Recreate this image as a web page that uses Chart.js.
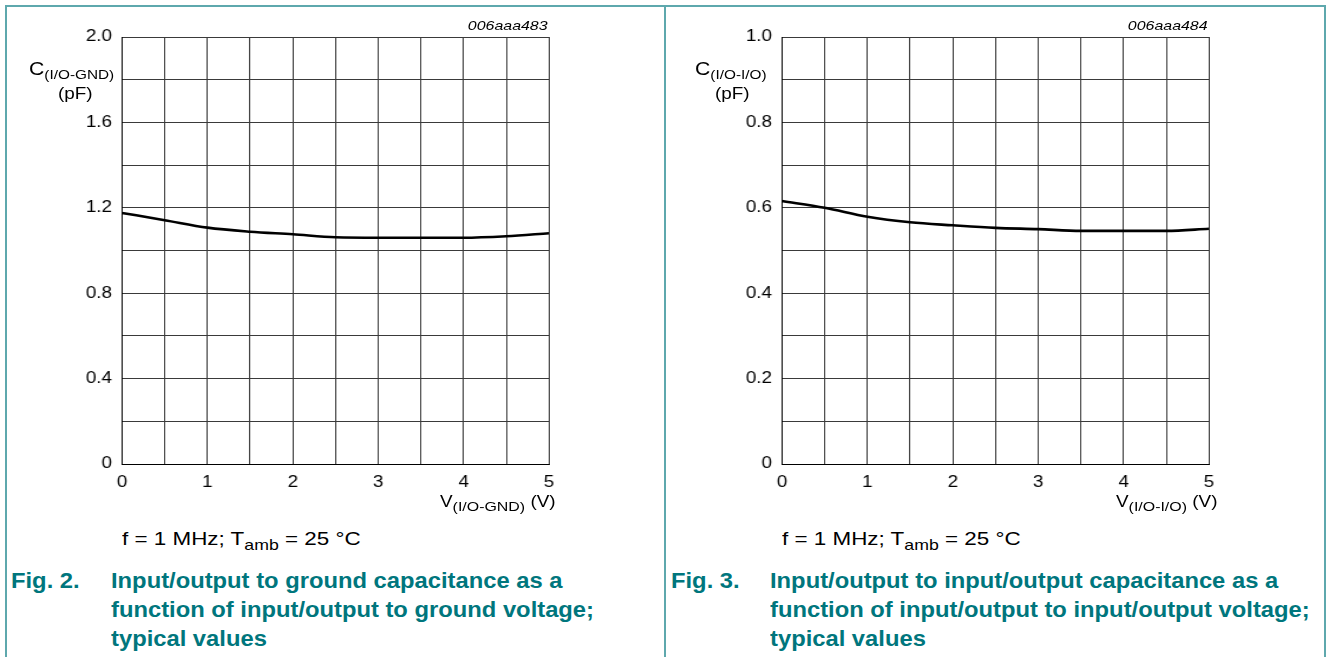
<!DOCTYPE html>
<html>
<head>
<meta charset="utf-8">
<script src="https://cdn.jsdelivr.net/npm/chart.js@4.4.1/dist/chart.umd.min.js"></script>
<style>
  body { margin: 0; background: #fff; font-family: "Liberation Sans", Arial, sans-serif; }
  #page { position: relative; width: 1328px; height: 657px; overflow: hidden; }
  .frame { position: absolute; background: #5ea8ad; }
  .wrap { position: absolute; top: 0; transform: scaleX(1.18); transform-origin: 0 0; }
  .t { position: absolute; white-space: nowrap; color: #000; line-height: 1; transform: scaleX(1.18); transform-origin: 0 0; }
  .t sub { vertical-align: -0.3em; line-height: 0; }
  .id { font-style: italic; font-size: 13.5px; transform-origin: 100% 0; text-align: right; }
  .cap { position: absolute; color: #00767d; font-weight: bold; font-size: 22px; line-height: 29px; white-space: nowrap; transform: scaleX(1.08); transform-origin: 0 0; }
</style>
</head>
<body>
<div id="page">
  <div class="frame" style="left:5px;top:5px;width:1321px;height:2px"></div>
  <div class="frame" style="left:5px;top:5px;width:2px;height:652px"></div>
  <div class="frame" style="left:664px;top:5px;width:2px;height:652px"></div>
  <div class="frame" style="left:1324px;top:5px;width:2px;height:652px"></div>

  <div class="wrap" style="left:0"><canvas id="chart1" width="564" height="500"></canvas></div>
  <div class="wrap" style="left:660px"><canvas id="chart2" width="564" height="500"></canvas></div>

  <!-- left panel texts -->
  <div class="t id" style="right:780px;top:19px">006aaa483</div>
  <div class="t" style="left:29px;top:60px;font-size:18px">C<sub style="font-size:13px">(I/O-GND)</sub></div>
  <div class="t" style="left:58px;top:86px;font-size:16px">(pF)</div>
  <div class="t" style="left:440px;top:494px;font-size:16px">V<sub style="font-size:13.5px">(I/O-GND)</sub> (V)</div>
  <div class="t" style="left:122px;top:529px;font-size:19px">f = 1 MHz; T<sub style="font-size:15px">amb</sub> = 25 °C</div>
  <div class="cap" style="left:11px;top:566px">Fig. 2.</div>
  <div class="cap" style="left:111px;top:566px">Input/output to ground capacitance as a<br>function of input/output to ground voltage;<br>typical values</div>

  <!-- right panel texts -->
  <div class="t id" style="right:120px;top:19px">006aaa484</div>
  <div class="t" style="left:695px;top:60px;font-size:18px">C<sub style="font-size:13px">(I/O-I/O)</sub></div>
  <div class="t" style="left:715px;top:86px;font-size:16px">(pF)</div>
  <div class="t" style="left:1116px;top:494px;font-size:16px">V<sub style="font-size:13.5px">(I/O-I/O)</sub> (V)</div>
  <div class="t" style="left:782px;top:529px;font-size:19px">f = 1 MHz; T<sub style="font-size:15px">amb</sub> = 25 °C</div>
  <div class="cap" style="left:671px;top:566px">Fig. 3.</div>
  <div class="cap" style="left:770px;top:566px">Input/output to input/output capacitance as a<br>function of input/output to input/output voltage;<br>typical values</div>
</div>

<script>
// voltage steps (V)
const voltage = [0, 0.5, 1, 1.5, 2, 2.5, 3, 3.5, 4, 4.5, 5];
// C(I/O-GND) in pF
const capGnd = [1.176, 1.142, 1.107, 1.088, 1.076, 1.062, 1.060, 1.060, 1.060, 1.067, 1.081];
// C(I/O-I/O) in pF
const capIo = [0.616, 0.600, 0.579, 0.566, 0.559, 0.553, 0.550, 0.546, 0.546, 0.546, 0.551];

const xTicks = [0, 1, 2, 3, 4, 5];
const gndLabels = { '0.0': '0', '0.4': '0.4', '0.8': '0.8', '1.2': '1.2', '1.6': '1.6', '2.0': '2.0' };
const ioLabels = { '0.0': '0', '0.2': '0.2', '0.4': '0.4', '0.6': '0.6', '0.8': '0.8', '1.0': '1.0' };

// canvas is drawn narrow and stretched by 1.18 with css, like the original print
const stretch = 1.18;

function makeChart(id, values, yMax, yStep, yLabels) {
  const ctx = document.getElementById(id).getContext('2d');
  const points = voltage.map((v, i) => ({ x: v, y: values[i] }));
  return new Chart(ctx, {
    type: 'line',
    data: {
      datasets: [{
        data: points,
        borderColor: '#000',
        borderWidth: 2.6,
        pointRadius: 0,
        tension: 0.35,
        cubicInterpolationMode: 'monotone'
      }]
    },
    options: {
      responsive: false,
      animation: false,
      devicePixelRatio: 1,
      layout: { padding: { left: 122 / stretch - 40, right: 564 - 549 / stretch, top: 37, bottom: 0 } },
      plugins: { legend: { display: false }, tooltip: { enabled: false } },
      scales: {
        x: {
          type: 'linear',
          min: 0, max: 5,
          afterFit: s => { s.height = 36; },
          grid: { color: '#3a3a3a', lineWidth: 1, drawTicks: false },
          border: { color: '#000', width: 1 },
          ticks: {
            stepSize: 0.5,
            padding: 9,
            color: '#000',
            font: { family: 'Liberation Sans', size: 16 },
            maxRotation: 0,
            callback: v => xTicks.includes(v) ? String(v) : ''
          }
        },
        y: {
          min: 0, max: yMax,
          afterFit: s => { s.width = 40; },
          grid: { color: '#3a3a3a', lineWidth: 1, drawTicks: false },
          border: { color: '#000', width: 1 },
          ticks: {
            stepSize: yStep,
            padding: 8.5,
            color: '#000',
            font: { family: 'Liberation Sans', size: 16 },
            callback: v => {
              const key = v.toFixed(1);
              return yLabels[key] !== undefined ? yLabels[key] : '';
            }
          }
        }
      }
    }
  });
}

makeChart('chart1', capGnd, 2.0, 0.2, gndLabels);
makeChart('chart2', capIo, 1.0, 0.1, ioLabels);
</script>
</body>
</html>
